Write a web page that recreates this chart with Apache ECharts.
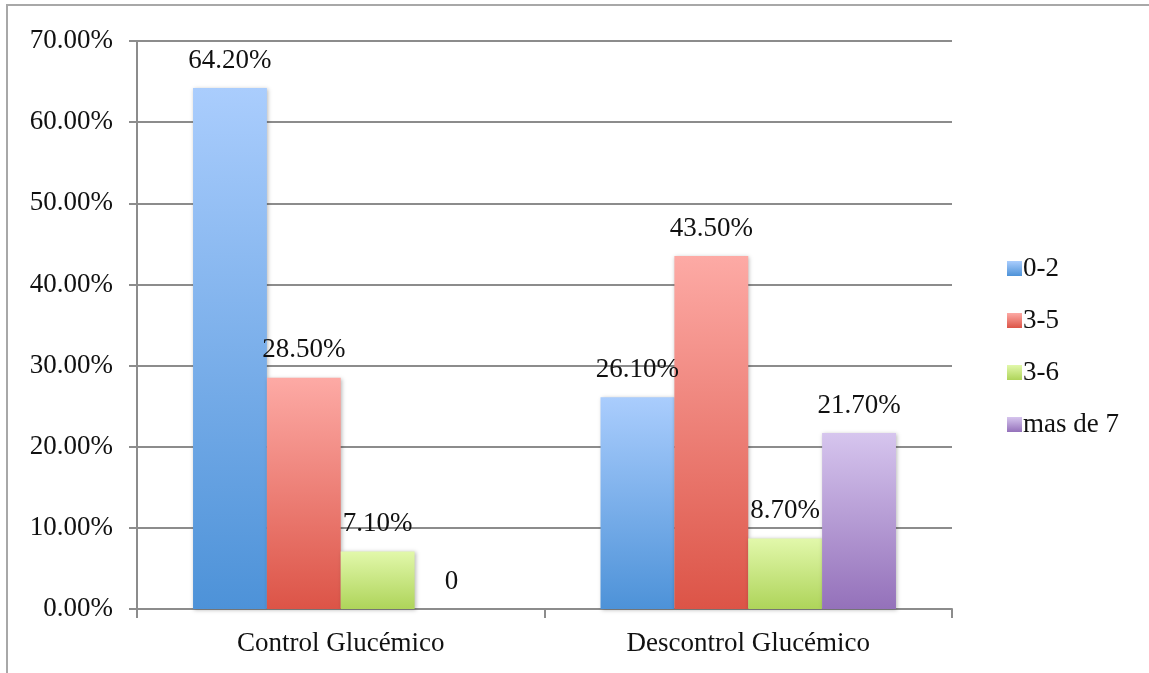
<!DOCTYPE html>
<html>
<head>
<meta charset="utf-8">
<script src="https://cdn.jsdelivr.net/npm/echarts@6/dist/echarts.min.js"></script>
<style>
  html, body { margin: 0; padding: 0; background: #ffffff; }
  #chart { width: 1149px; height: 673px; }
</style>
</head>
<body>
<div id="chart"></div>
<script>
// Proportion of patients per group, by range
const categories = ['Control Glucémico', 'Descontrol Glucémico'];
const seriesNames = ['0-2', '3-5', '3-6', 'mas de 7'];
const values02 = [0.642, 0.261];
const values35 = [0.285, 0.435];
const values36 = [0.071, 0.087];
const valuesMas7 = [0, 0.217];
const yTicks = [0, 0.1, 0.2, 0.3, 0.4, 0.5, 0.6, 0.7];

// Top/bottom gradient stops for each series
const gradients = [
  ['#aacdfd', '#4d92d8'],
  ['#fdaaa5', '#dc5447'],
  ['#e2f8ab', '#aed45a'],
  ['#d6c5ee', '#9471ba']
];

const FONT = '"Liberation Serif", serif';
const FS = 27;
const GRID_COLOR = '#8c8c8c';

function pct(v) {
  return v === 0 ? '0' : (v * 100).toFixed(2) + '%';
}

function grad(stops) {
  return new echarts.graphic.LinearGradient(0, 0, 0, 1, [
    { offset: 0, color: stops[0] },
    { offset: 1, color: stops[1] }
  ]);
}

const allValues = [values02, values35, values36, valuesMas7];

const chart = echarts.init(document.getElementById('chart'), null, { renderer: 'canvas' });

chart.setOption({
  backgroundColor: '#ffffff',
  animation: false,
  textStyle: { fontFamily: FONT },
  graphic: [{
    type: 'rect',
    shape: { x: 7, y: 5, width: 1300, height: 800 },
    style: { fill: 'none', stroke: '#a8a8a8', lineWidth: 2 },
    silent: true,
    z: -1
  }],
  grid: { left: 137, top: 41, right: 197, bottom: 64, containLabel: false },
  legend: {
    orient: 'vertical',
    left: 1002,
    top: 250,
    itemWidth: 15,
    itemHeight: 15,
    itemGap: 25,
    icon: 'rect',
    textStyle: { fontFamily: FONT, fontSize: FS, color: '#111111', padding: [0, 0, 0, -4] },
    data: seriesNames
  },
  xAxis: {
    type: 'category',
    data: categories,
    axisLine: { lineStyle: { color: GRID_COLOR, width: 2 } },
    axisTick: { show: true, length: 9, lineStyle: { color: GRID_COLOR, width: 2 } },
    axisLabel: { fontFamily: FONT, fontSize: FS, color: '#111111', margin: 21 }
  },
  yAxis: {
    type: 'value',
    min: yTicks[0],
    max: yTicks[yTicks.length - 1],
    interval: 0.1,
    axisLine: { show: true, lineStyle: { color: GRID_COLOR, width: 2 } },
    axisTick: { show: true, length: 8, lineStyle: { color: GRID_COLOR, width: 2 } },
    splitLine: { lineStyle: { color: GRID_COLOR, width: 2 } },
    axisLabel: {
      fontFamily: FONT, fontSize: FS, color: '#111111', margin: 24,
      formatter: function (v) { return (v * 100).toFixed(2) + '%'; }
    }
  },
  series: seriesNames.map(function (name, i) {
    return {
      name: name,
      type: 'bar',
      data: allValues[i],
      barGap: '0%',
      barCategoryGap: '27.5%',
      itemStyle: {
        color: grad(gradients[i]),
        shadowBlur: 4,
        shadowColor: 'rgba(0,0,0,0.28)',
        shadowOffsetX: 1,
        shadowOffsetY: 1
      },
      label: {
        show: true,
        position: 'top',
        distance: 14,
        fontFamily: FONT,
        fontSize: FS,
        color: '#111111',
        formatter: function (p) { return pct(p.value); }
      }
    };
  })
});
</script>
</body>
</html>
